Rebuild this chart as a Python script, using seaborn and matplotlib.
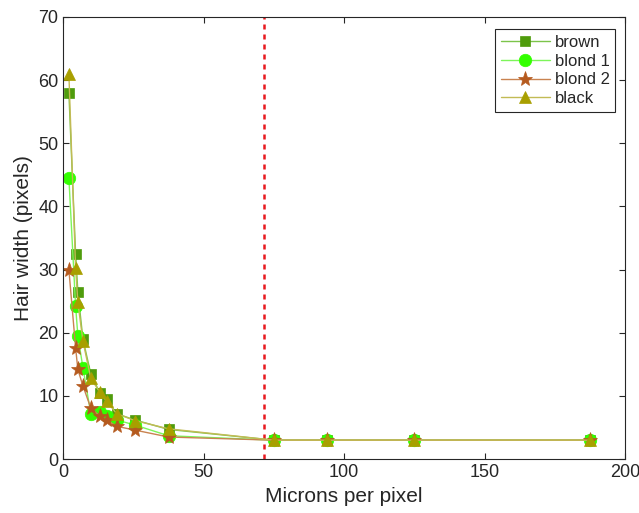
import matplotlib
matplotlib.use("Agg")
import matplotlib.pyplot as plt
import seaborn as sns

# microns per pixel (shared x positions)
microns = [2.0, 4.4, 5.2, 7.0, 9.8, 13.0, 15.4, 19.0, 25.5, 37.5, 75.0, 93.75, 125.0, 187.5]

brown = [58, 32.5, 26.5, 19, 13.5, 10.5, 9.5, 7.2, 6.2, 4.7, 3, 3, 3, 3]
blond1 = [44.5, 24.2, 19.5, 14.5, 7.2, 7.5, 6.8, 6.2, 5.4, 3.7, 3, 3, 3, 3]
blond2 = [30, 17.6, 14.2, 11.6, 8.1, 6.8, 6.2, 5.2, 4.6, 3.5, 3, 3, 3, 3]
black = [61, 30.2, 24.8, 18.7, 12.8, 10.6, 9.2, 7.2, 6.1, 4.8, 3, 3, 3, 3]

cutoff = 71.4

series = [
    ("brown", brown, "s", "#4f9c0c", "#7cc44a", 7),
    ("blond 1", blond1, "o", "#33ff00", "#7df55a", 9),
    ("blond 2", blond2, "*", "#b55a1e", "#c98350", 11),
    ("black", black, "^", "#a89f00", "#c2bb55", 9),
]

sns.set_style("ticks")
plt.rcParams["font.family"] = ["Liberation Sans", "DejaVu Sans"]

fig = plt.figure(figsize=(6.39, 5.13), dpi=100)
ax = fig.add_axes([0.099, 0.105, 0.879, 0.862])

for name, vals, mk, mcol, lcol, ms in series:
    sns.lineplot(x=microns, y=vals, ax=ax, label=name, color=lcol, linewidth=1.0,
                 marker=mk, markersize=ms, markerfacecolor=mcol, markeredgecolor=mcol,
                 markeredgewidth=0.5, sort=False)

ax.axvline(cutoff, color="#e8191f", linestyle=(0, (2, 2)), linewidth=1.8, zorder=1)

ax.set_xlim(0, 200)
ax.set_ylim(0, 70)
ax.set_xticks([0, 50, 100, 150, 200])
ax.set_yticks(range(0, 71, 10))
ax.set_xlabel("Microns per pixel", fontsize=15, color="#262626")
ax.set_ylabel("Hair width (pixels)", fontsize=15, color="#262626")
ax.tick_params(direction="in", top=True, right=True, labelsize=13, colors="#262626",
               length=4, width=0.8)
for sp in ax.spines.values():
    sp.set_visible(True)
    sp.set_color("#262626")
    sp.set_linewidth(0.8)

leg = ax.legend(loc="upper right", fontsize=12, fancybox=False, frameon=True,
                edgecolor="#262626", framealpha=1, handlelength=2.9, handletextpad=0.3,
                borderpad=0.35, labelspacing=0.22, borderaxespad=0,
                bbox_to_anchor=(0.983, 0.972))
leg.get_frame().set_linewidth(0.8)

fig.savefig("out.png", dpi=100)
